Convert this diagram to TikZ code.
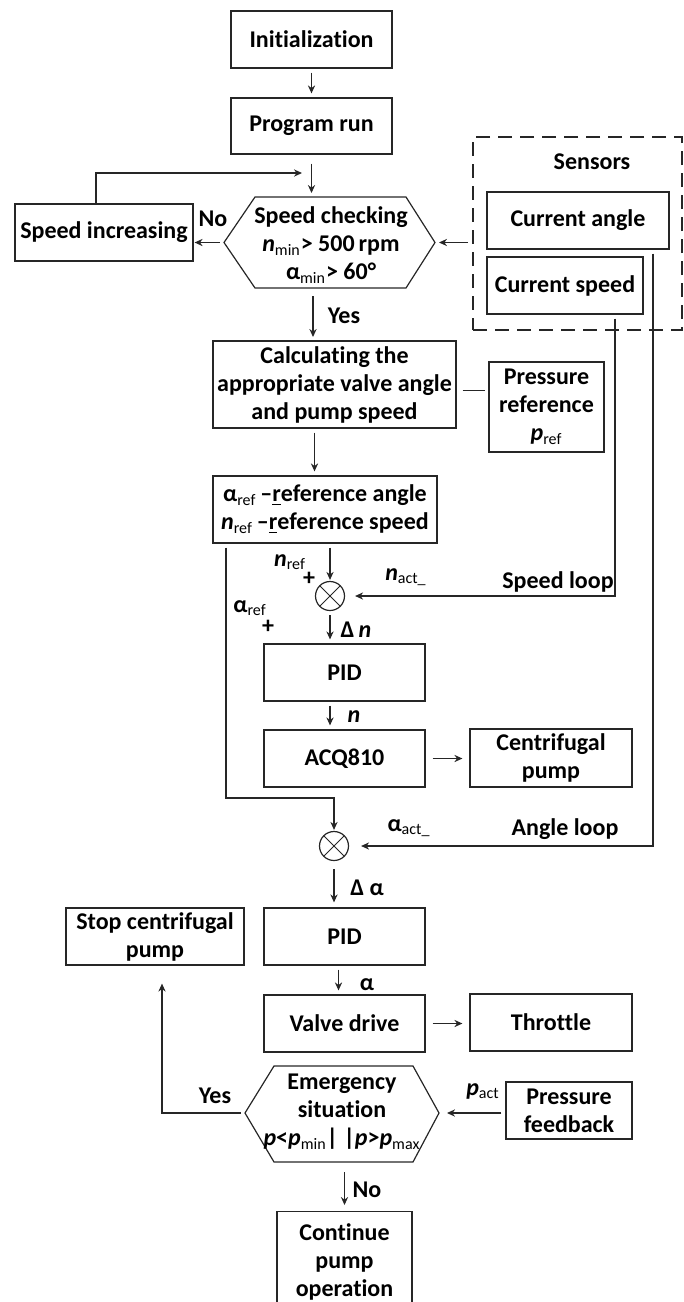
\documentclass[tikz,border=0pt]{standalone}
\usepackage{fontspec}
\setmainfont{Carlito}[Ligatures=NoCommon]
\usetikzlibrary{positioning,calc,arrows.meta}

\newcommand{\lsub}[1]{\textsubscript{\normalfont #1}}

\begin{document}
\begin{tikzpicture}[x=0.5pt,y=-0.5pt,
  font=\bfseries\fontsize{12}{14}\selectfont,
  line/.style={draw=black!85,line width=0.6pt},
  box/.style={line,align=center,inner sep=0pt,minimum width=80.5pt,minimum height=28.5pt},
  arr/.style={->,>={Stealth[length=4pt,width=3.6pt]},draw=black!85,line width=0.6pt,shorten >=2pt,shorten <=2pt},
  lbl/.style={inner sep=0pt},
  sumnode/.style={circle,line,minimum size=14.5pt,inner sep=0pt,
    path picture={\draw[line width=0.5pt] (path picture bounding box.north west) -- (path picture bounding box.south east)
      (path picture bounding box.north east) -- (path picture bounding box.south west);}}]
  \useasboundingbox (0,0) rectangle (684,1302);
  \clip (0,0) rectangle (684,1302);

  % Start of the program
  \node[box] (init) at (311.5,39.5) {Initialization};
  \node[box,minimum height=28pt] (prog) at (311.5,126) {Program run};
  \draw[arr] (init.south) -- (prog.north);

  % Speed check (hexagon drawn by hand)
  \coordinate (chkW) at (224,242.5);
  \coordinate (chkE) at (435,242.5);
  \coordinate (chkN) at (331,197);
  \coordinate (chkS) at (331,288);
  \draw[line] (chkW) -- (255,197) -- (406,197) -- (chkE) -- (406,288) -- (255,288) -- cycle;
  \node[lbl,align=center] (check) at (331,245) {Speed checking\\{\itshape n}\lsub{min}> 500\,rpm\\α\lsub{min}> 60°};
  \draw[arr,shorten <=4.5pt] (prog.south) -- (prog.south |- chkN);

  % No branch
  \node[box,minimum width=89pt] (inc) at (104,232.5) {Speed increasing};
  \draw[arr,shorten >=0.5pt] (chkW) -- (inc.east |- chkW);
  \node[lbl] (nolbl) at (213,219) {No};
  \coordinate (loopin) at (306,173);
  \draw[arr,shorten <=0pt] ([xshift=-4pt]inc.north) |- (loopin);

  % Sensors
  \node[draw=black!85,line width=1pt,dash pattern=on 7pt off 4pt,minimum width=104.5pt,minimum height=96.5pt] (sensors) at (577.5,233.5) {};
  \node[lbl] (senslbl) at (592,162) {Sensors};
  \node[box,minimum width=91pt] (angle) at (578,220.5) {Current angle};
  \node[box,minimum width=78pt] (speed) at (565,285.5) {Current speed};
  \draw[arr] (sensors.west |- chkE) -- (chkE);

  % Yes branch: reference values
  \draw[arr,shorten <=4pt] ([xshift=-9pt]chkS) -- ([xshift=-9pt]chkS |- 0,341);
  \node[lbl] (yeslbl) at (344,316) {Yes};
  \node[box,minimum width=121.5pt,minimum height=43.5pt] (calc) at (334.5,384.5) {Calculating the\\appropriate valve angle\\and pump speed};
  \node[box,minimum width=57.5pt,minimum height=45pt] (pref) at (546.5,407) {Pressure\\reference\\{\itshape p}\lsub{ref}};
  \draw[line,shorten <=3pt,shorten >=1.5pt] ([yshift=-3pt]calc.east) -- ([yshift=-3pt]calc.east -| pref.west);
  \node[box,minimum width=112pt,minimum height=33.5pt] (ref) at (325,509.5) {α\lsub{ref}\,–\underline{r}eference angle\\{\itshape n}\lsub{ref}\,–\underline{r}eference speed};
  \draw[arr] ([xshift=-10pt]calc.south) -- ([xshift=-10pt]calc.south |- ref.north);

  % Speed loop
  \node[sumnode] (sum1) at (330,596) {};
  \draw[arr,shorten >=0.5pt] (ref.south -| sum1) -- (sum1.north);
  \node[lbl] (nref) at (290,562) {{\itshape n}\lsub{ref}};
  \node[lbl] (nplus) at (309,579) {+};
  \draw[arr,shorten >=5pt] ([xshift=25pt]speed.south) |- (sum1.east);
  \node[lbl] (spdloop) at (558,582) {Speed loop};
  \node[lbl] (nact) at (406,577) {{\itshape n}\lsub{act\_}};
  \node[box] (pid1) at (344.5,672.5) {PID};
  \draw[arr] (sum1.south) -- (sum1.south |- pid1.north);
  \node[lbl] (dn) at (356,630) {Δ\,{\itshape n}};
  \node[box] (acq) at (344.5,758.5) {ACQ810};
  \draw[arr] (pid1.south -| sum1) -- (acq.north -| sum1);
  \node[lbl] (nlbl) at (354,717) {\itshape n};
  \node[box,minimum width=81pt,minimum height=29pt] (pump) at (551,758) {Centrifugal\\pump};
  \draw[arr,shorten <=3.5pt,shorten >=3.5pt] (acq.east) -- (acq.east -| pump.west);

  % Angle loop
  \node[sumnode] (sum2) at (334,846) {};
  \coordinate (abend) at (226,798);
  \draw[arr,shorten >=0.5pt] (ref.south -| abend) -- (abend) -| (sum2.north);
  \node[lbl] (aref) at (250,608) {α\lsub{ref}};
  \node[lbl] (aplus) at (268,627) {+};
  \draw[arr,shorten >=6pt] ([xshift=37.5pt]angle.south) |- (sum2.east);
  \node[lbl] (aact) at (409,828) {α\lsub{act\_}};
  \node[lbl] (angloop) at (565,829) {Angle loop};
  \node[box] (pid2) at (344.5,936.5) {PID};
  \draw[arr,shorten <=4pt,shorten >=2.5pt] (sum2.south) -- (sum2.south |- pid2.north);
  \node[lbl] (da) at (367,888) {Δ α};
  \node[box] (valve) at (344.5,1023.5) {Valve drive};
  \draw[arr] ([xshift=-3pt]pid2.south) -- ([xshift=-3pt]valve.north);
  \node[lbl] (albl) at (367,985) {α};
  \node[box,minimum width=81pt] (thr) at (551,1022.5) {Throttle};
  \draw[arr,shorten <=3.5pt,shorten >=3.5pt] (valve.east) -- (valve.east -| thr.west);

  % Emergency check (hexagon drawn by hand)
  \coordinate (emW) at (245,1113);
  \coordinate (emE) at (439,1113);
  \coordinate (emS) at (344.5,1162);
  \draw[line] (emW) -- (274,1066) -- (413,1066) -- (emE) -- (413,1162) -- (274,1162) -- cycle;
  \node[lbl,align=center] (emerg) at (342,1112) {Emergency\\situation\\{\itshape p}<{\itshape p}\lsub{min}| |{\itshape p}>{\itshape p}\lsub{max}};
  \node[box,minimum width=89pt] (stop) at (155,936.5) {Stop centrifugal\\pump};
  \draw[arr,shorten >=9pt] (emW) -| ([xshift=3.5pt]stop.south);
  \node[lbl] (yes2) at (215,1096) {Yes};
  \node[box,minimum width=63pt] (pfb) at (569,1110.5) {Pressure\\feedback};
  \draw[arr,shorten >=4pt] (pfb.west |- emE) -- (emE);
  \node[lbl] (pact) at (483,1091) {{\itshape p}\lsub{act}};
  \node[box,minimum width=67.5pt,minimum height=50pt,anchor=north] (cont) at (344.5,1211) {Continue\\pump\\operation};
  \draw[arr,shorten <=5pt,shorten >=3pt] (emS) -- (emS |- cont.north);
  \node[lbl] (no2) at (367,1190) {No};
\end{tikzpicture}
\end{document}
